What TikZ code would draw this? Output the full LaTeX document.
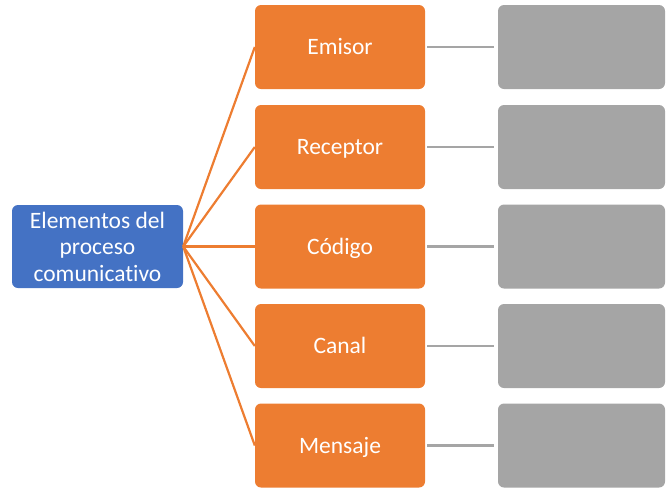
\documentclass[tikz,border=0pt]{standalone}
\usepackage{fontspec}
\setmainfont{Carlito}[RawFeature=-liga]
\definecolor{cblue}{HTML}{4472C4}
\definecolor{corange}{HTML}{ED7D31}
\definecolor{cgray}{HTML}{A5A5A5}
\begin{document}
\begin{tikzpicture}[x=1pt,y=-1pt,
  box/.style={rounded corners=6pt,inner sep=0pt,text=white,align=center,
    font=\fontsize{23.5}{26.5}\selectfont},
  rootbox/.style={box,fill=cblue,minimum width=171pt,minimum height=83pt},
  catbox/.style={box,fill=corange,minimum width=170pt,minimum height=84pt,
    text height=15pt,text depth=0pt},
  graybox/.style={box,fill=cgray,minimum width=167pt,minimum height=84pt},
  oline/.style={draw=corange,line width=2.2pt},
  gline/.style={draw=cgray,line width=2.2pt}]
\useasboundingbox (0,0) rectangle (666,491);
\node[rootbox] (root) at (97.5,246.5) {Elementos del\\proceso\\comunicativo};
\foreach \n/\t/\y in {e/Emisor/47,r/Receptor/147,c/Código/246.5,k/Canal/346,m/Mensaje/445.5}{
  \node[catbox] (\n) at (340,\y) {\t};
  \node[graybox] (g\n) at (581.5,\y) {};
  \draw[oline] (root.east) -- (\n.west);
  \draw[gline] ([xshift=2pt]\n.east) -- ([xshift=-4pt]g\n.west);
}
\end{tikzpicture}
\end{document}
